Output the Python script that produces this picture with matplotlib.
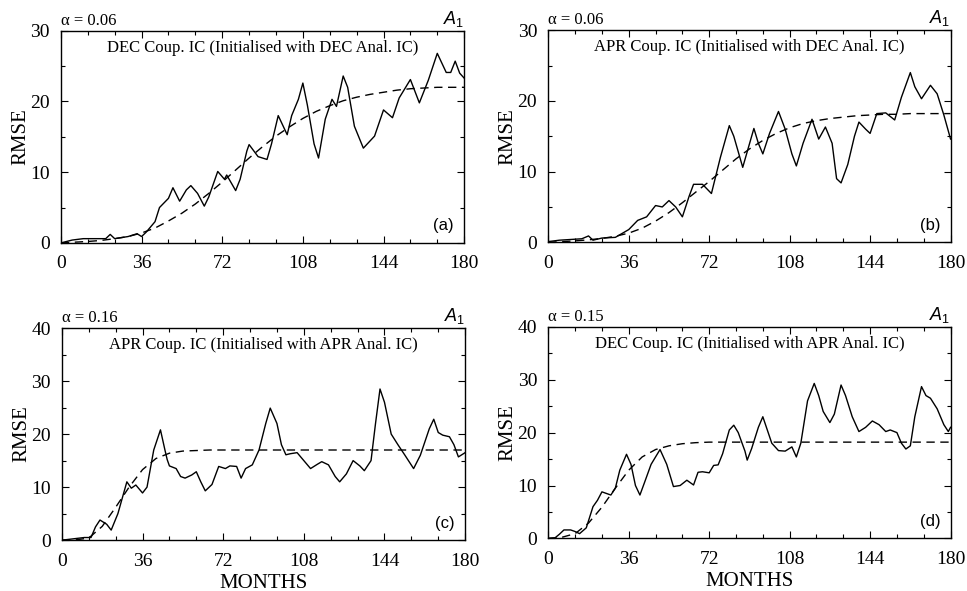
#!/usr/bin/env python3
"""
Four-panel RMSE vs forecast month plot (solid = RMSE, dashed = fitted curve).
Values are read off the original figure.
"""
import matplotlib
matplotlib.use("Agg")
import matplotlib.pyplot as plt
from matplotlib.ticker import MultipleLocator

# ---- panel (a) --------------------------------------------------------------
months_a = [0, 5, 10, 15, 20, 22, 24, 30, 34, 36, 38, 42, 44, 48, 50, 53, 56, 58,
            61, 64, 66, 70, 73, 74, 78, 80, 83, 84, 88, 92, 94, 97, 101, 103, 106,
            108, 110, 113, 115, 118, 121, 123, 126, 128, 131, 135, 140, 144, 148,
            151, 156, 160, 164, 168, 172, 174, 176, 178, 180]
rmse_a = [0, 0.4, 0.6, 0.6, 0.6, 1.2, 0.6, 0.9, 1.3, 0.9, 1.5, 3.0, 5.0, 6.3, 7.8,
          5.9, 7.5, 8.1, 7.0, 5.2, 6.5, 10.1, 9.0, 9.6, 7.4, 9.0, 13.0, 13.9, 12.2,
          11.8, 14.0, 18.0, 15.3, 18.0, 20.3, 22.6, 19.5, 14.0, 12.0, 17.5, 20.3,
          19.3, 23.6, 22.0, 16.5, 13.4, 15.1, 18.8, 17.7, 20.5, 23.1, 19.8, 23.0,
          26.8, 24.1, 24.1, 25.7, 24.0, 23.3]

# ---- panel (b) --------------------------------------------------------------
months_b = [0, 5, 10, 15, 18, 20, 24, 30, 36, 40, 44, 48, 51, 54, 57, 60, 63, 65,
            69, 73, 77, 81, 83, 87, 92, 94, 96, 99, 103, 106, 109, 111, 114, 118,
            121, 124, 127, 129, 131, 134, 137, 139, 142, 144, 147, 151, 155, 158,
            162, 164, 167, 171, 174, 177, 180]
rmse_b = [0.1, 0.3, 0.4, 0.5, 0.9, 0.3, 0.6, 0.7, 1.8, 3.1, 3.6, 5.2, 5.0, 5.9,
          5.0, 3.6, 6.5, 8.2, 8.2, 6.9, 12.0, 16.5, 15.0, 10.6, 16.1, 14.0, 12.5,
          15.4, 18.5, 16.0, 12.5, 10.8, 14.0, 17.4, 14.6, 16.3, 14.0, 9.0, 8.4,
          11.0, 15.0, 17.0, 16.0, 15.4, 18.2, 18.3, 17.3, 20.5, 24.0, 22.0, 20.3,
          22.2, 21.0, 18.0, 14.6]

# ---- panel (c) --------------------------------------------------------------
months_c = [0, 6, 10, 13, 15, 17, 20, 22, 25, 29, 31, 33, 36, 38, 41, 44, 46, 47,
            48, 51, 53, 55, 58, 60, 62, 64, 67, 70, 73, 75, 78, 80, 82, 85, 88, 91,
            93, 96, 98, 100, 102, 105, 108, 111, 114, 116, 119, 122, 124, 127, 130,
            133, 135, 138, 140, 142, 144, 147, 150, 153, 157, 160, 164, 166, 168,
            170, 173, 175, 177, 180]
rmse_c = [0, 0.3, 0.5, 0.5, 2.5, 3.8, 3.0, 1.9, 5.0, 11.0, 9.8, 10.4, 8.9, 10.0,
          17.0, 20.8, 17.0, 15.2, 14.0, 13.5, 12.0, 11.7, 12.3, 12.9, 11.0, 9.3,
          10.5, 13.9, 13.5, 14.0, 13.9, 11.7, 13.5, 14.2, 17.0, 22.0, 24.9, 22.0,
          18.0, 16.1, 16.3, 16.5, 15.0, 13.5, 14.3, 14.8, 14.2, 12.0, 11.0, 12.5,
          15.0, 14.0, 13.1, 15.0, 22.0, 28.5, 26.0, 20.0, 18.0, 16.1, 13.5, 16.0,
          21.0, 22.8, 20.3, 19.8, 19.5, 18.0, 15.7, 16.5]

# ---- panel (d) --------------------------------------------------------------
months_d = [0, 3, 5, 7, 10, 12, 14, 17, 20, 22, 24, 26, 28, 30, 32, 35, 37, 39, 41,
            43, 46, 50, 53, 56, 59, 62, 65, 67, 69, 72, 74, 76, 78, 81, 83, 85, 88,
            89, 91, 94, 96, 98, 100, 103, 106, 109, 111, 113, 116, 119, 121, 123,
            126, 128, 131, 133, 136, 139, 142, 145, 148, 151, 153, 156, 158, 160,
            162, 164, 167, 169, 171, 174, 177, 179, 180]
rmse_d = [0, 0.1, 0.8, 1.6, 1.6, 1.3, 0.9, 2.0, 6.0, 7.2, 8.8, 8.5, 8.2, 9.5, 12.9,
          15.9, 14.0, 10.0, 8.2, 10.5, 14.0, 16.8, 14.0, 9.8, 10.0, 11.0, 10.1,
          12.5, 12.6, 12.4, 13.8, 13.9, 16.0, 20.5, 21.4, 20.0, 16.5, 14.8, 17.0,
          21.0, 23.0, 20.5, 18.0, 16.6, 16.5, 17.3, 15.4, 18.0, 26.0, 29.3, 27.0,
          24.0, 21.9, 23.5, 29.0, 27.0, 23.0, 20.2, 21.0, 22.2, 21.5, 20.2, 20.5,
          20.0, 18.0, 16.9, 17.5, 23.0, 28.7, 27.0, 26.5, 24.5, 21.5, 20.2, 21.0]

# ---- fitted (dashed) curves, sampled every 6 months -------------------------
fit_months = [0, 6, 12, 18, 24, 30, 36, 42, 48, 54, 60, 66, 72, 78, 84, 90, 96,
              102, 108, 114, 120, 126, 132, 138, 144, 150, 156, 162, 168, 174, 180]
fit_a = [0, 0.1, 0.2, 0.35, 0.6, 0.9, 1.4, 2.1, 3.1, 4.2, 5.5, 7.0, 8.6, 10.3,
         12.0, 13.6, 15.1, 16.4, 17.6, 18.6, 19.4, 20.1, 20.6, 21.0, 21.3, 21.6,
         21.8, 21.9, 22.0, 22.0, 22.0]
fit_b = [0, 0.1, 0.2, 0.35, 0.55, 0.85, 1.3, 2.0, 3.0, 4.2, 5.6, 7.1, 8.6, 10.2,
         11.8, 13.2, 14.4, 15.4, 16.2, 16.8, 17.2, 17.5, 17.7, 17.9, 18.0, 18.1,
         18.1, 18.2, 18.2, 18.2, 18.2]
fit_c = [0, 0.05, 0.4, 2.6, 6.2, 10.0, 13.3, 15.4, 16.4, 16.8, 16.9, 17.0, 17.0,
         17.0, 17.0, 17.0, 17.0, 17.0, 17.0, 17.0, 17.0, 17.0, 17.0, 17.0, 17.0,
         17.0, 17.0, 17.0, 17.0, 17.0, 17.0]
fit_d = [0, 0.2, 0.9, 2.9, 5.9, 9.5, 12.9, 15.4, 16.8, 17.5, 17.9, 18.1, 18.2,
         18.2, 18.2, 18.2, 18.2, 18.2, 18.2, 18.2, 18.2, 18.2, 18.2, 18.2, 18.2,
         18.2, 18.2, 18.2, 18.2, 18.2, 18.2]

titles = ["DEC Coup. IC (Initialised with DEC Anal. IC)",
          "APR Coup. IC (Initialised with DEC Anal. IC)",
          "APR Coup. IC (Initialised with APR Anal. IC)",
          "DEC Coup. IC (Initialised with APR Anal. IC)"]
alphas = ["0.06", "0.06", "0.16", "0.15"]
letters = ["(a)", "(b)", "(c)", "(d)"]
ymaxes = [30, 30, 40, 40]

plt.rcParams["font.family"] = "Liberation Serif"
plt.rcParams["mathtext.fontset"] = "custom"
plt.rcParams["mathtext.it"] = "Liberation Sans:italic"
plt.rcParams["mathtext.rm"] = "Liberation Sans"

fig = plt.figure(figsize=(9.67, 5.91), dpi=100)
positions = [(0.063, 0.589, 0.417, 0.359),
             (0.567, 0.590, 0.416, 0.359),
             (0.064, 0.086, 0.417, 0.359),
             (0.567, 0.089, 0.416, 0.358)]
series = [(months_a, rmse_a, fit_a), (months_b, rmse_b, fit_b),
          (months_c, rmse_c, fit_c), (months_d, rmse_d, fit_d)]

for i, (pos, (mx, my, fy)) in enumerate(zip(positions, series)):
    ax = fig.add_axes(pos)
    ax.plot(mx, my, color="black", linewidth=1.0)
    ax.plot(fit_months, fy, color="black", linewidth=1.0, linestyle=(0, (6, 4)))
    ax.set_xlim(0, 180)
    ax.set_ylim(0, ymaxes[i])
    ax.xaxis.set_major_locator(MultipleLocator(36))
    ax.xaxis.set_minor_locator(MultipleLocator(12))
    ax.yaxis.set_major_locator(MultipleLocator(10))
    ax.yaxis.set_minor_locator(MultipleLocator(5))
    ax.tick_params(which="both", direction="in", top=True, right=True,
                   labelsize=14, width=0.8)
    ax.tick_params(which="major", length=5)
    ax.tick_params(which="minor", length=3)
    ax.tick_params(axis="x", pad=9)
    ax.tick_params(axis="y", pad=8)
    for s in ax.spines.values():
        s.set_linewidth(1.0)
    ax.set_ylabel("RMSE", fontsize=15, labelpad=0)
    if i >= 2:
        ax.set_xlabel("MONTHS", fontsize=15, labelpad=3)

    ax.text(0.5, 0.92, titles[i], transform=ax.transAxes, ha="center",
            va="center", fontsize=12)
    ax.text(0.0, 1.01, "\u03b1 = " + alphas[i], transform=ax.transAxes,
            ha="left", va="bottom", fontsize=12)
    ax.text(1.0, 1.01, "$A_1$", transform=ax.transAxes, ha="right",
            va="bottom", fontsize=13)
    ax.text(0.975, 0.08, letters[i], transform=ax.transAxes, ha="right",
            va="center", fontsize=12, family="Liberation Sans")

fig.savefig("out.png", dpi=100)
